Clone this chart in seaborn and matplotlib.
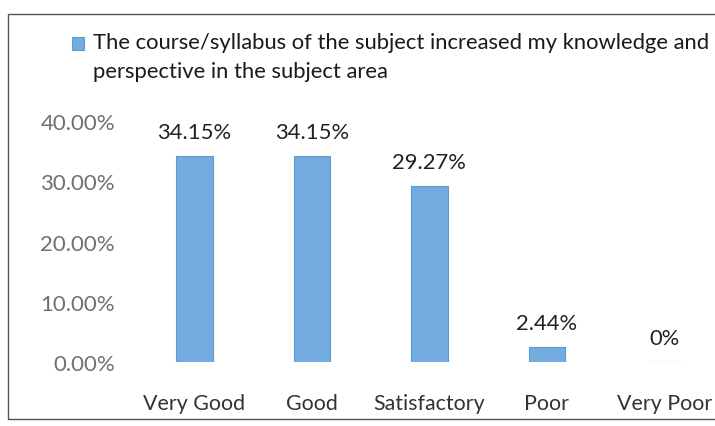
import matplotlib
matplotlib.use("Agg")
import matplotlib.pyplot as plt
from matplotlib.patches import Rectangle
from matplotlib.legend_handler import HandlerPatch
from matplotlib.ticker import PercentFormatter
import seaborn as sns
import pandas as pd

# Survey responses
categories = ["Very Good", "Good", "Satisfactory", "Poor", "Very Poor"]
shares = [0.3415, 0.3415, 0.2927, 0.0244, 0.0]
value_labels = ["34.15%", "34.15%", "29.27%", "2.44%", "0%"]
series_name = ("The course/syllabus of the subject increased my knowledge and\n"
               "perspective in the subject area")
y_ticks = [0.0, 0.1, 0.2, 0.3, 0.4]

df = pd.DataFrame({"category": categories, "share": shares})

sns.set_theme(style="white")
plt.rcParams["font.family"] = ["Lato", "DejaVu Sans"]

fig = plt.figure(figsize=(7.15, 4.27), dpi=100)
ax = fig.add_axes([0.190, 0.150, 0.821, 0.564])

bar_color = "#74ACDF"
sns.barplot(data=df, x="category", y="share", color=bar_color, width=0.31,
            edgecolor="#5F9AD0", linewidth=0.8, saturation=1, ax=ax,
            label=series_name, legend=False)

ax.set_ylim(0, 0.40)
ax.set_yticks(y_ticks)
ax.yaxis.set_major_formatter(PercentFormatter(xmax=1, decimals=2))
ax.set_xlabel("")
ax.set_ylabel("")
for s in ax.spines.values():
    s.set_visible(False)
ax.tick_params(axis="y", length=0, pad=15, labelsize=16, labelcolor="#707070")
ax.tick_params(axis="x", length=0, pad=22, labelsize=15.4, labelcolor="#333333")

# value labels above each bar
for container in ax.containers:
    ax.bar_label(container, labels=value_labels, padding=10, fontsize=15.8,
                 color="#222222")


# legend key sits beside the first line of the two-line label
def top_aligned_key(legend, orig_handle, xdescent, ydescent, width, height,
                    fontsize):
    return Rectangle((-xdescent, -ydescent + 9.5), width, height)


handles = [ax.containers[0].patches[0]]
leg = fig.legend(handles, [series_name], loc="upper left",
                 bbox_to_anchor=(72 / 715, 1 - 33 / 427), frameon=False,
                 fontsize=15.8, handlelength=0.55, handleheight=0.55,
                 handletextpad=0.4, borderaxespad=0, borderpad=0,
                 labelcolor="#1a1a1a",
                 handler_map={Rectangle: HandlerPatch(patch_func=top_aligned_key)})
for t in leg.get_texts():
    t.set_linespacing(1.55)

# chart area frame
fig.patches.append(Rectangle((8 / 715, 7 / 427), 1.0, 405 / 427,
                             transform=fig.transFigure, fill=False,
                             edgecolor="#555555", linewidth=1.0))

fig.savefig("out.png", dpi=100)
